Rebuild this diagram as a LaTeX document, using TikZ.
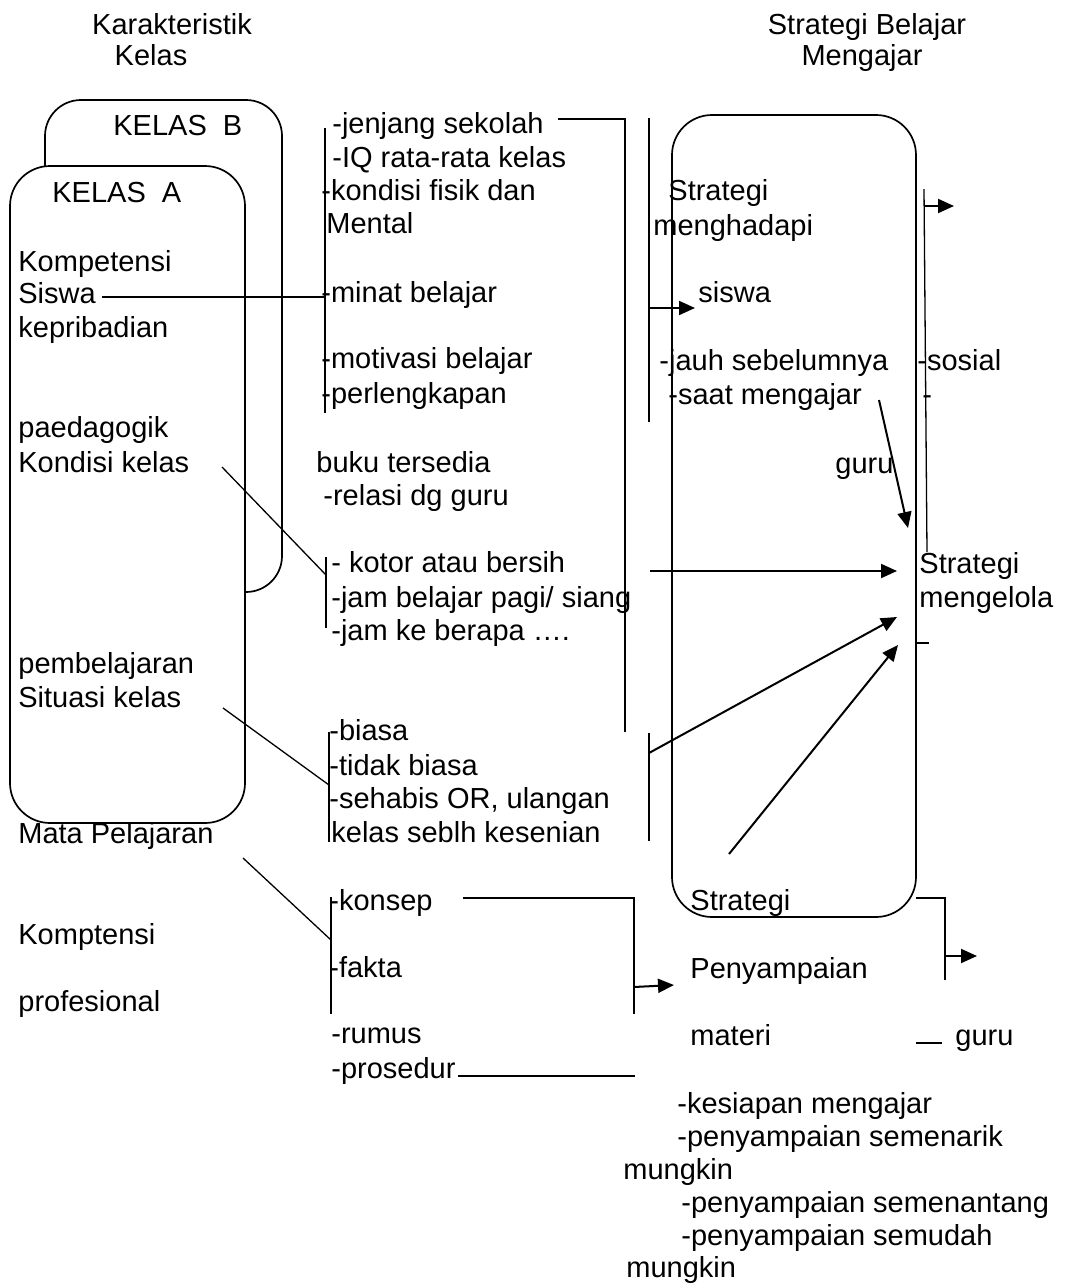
\documentclass[tikz,border=0pt]{standalone}
\usepackage{fontspec}
\setmainfont{Liberation Sans}
\usetikzlibrary{arrows.meta, positioning}
\tikzset{
  lbl/.style={anchor=base west, inner sep=0pt, font=\fontsize{14.5}{16.5}\selectfont},
  ttl/.style={anchor=base, inner sep=0pt, font=\fontsize{14.5}{16.5}\selectfont},
  kbox/.style={draw, line width=0.85pt, rounded corners=20pt, inner sep=0pt, outer sep=0pt},
  link/.style={line width=0.65pt},
  flow/.style={-{Triangle[length=8pt, width=7pt]}, line width=1pt},
}

\begin{document}
\begin{tikzpicture}[x=0.5pt, y=-0.5pt]
    \useasboundingbox (0,0) rectangle (1065,1285);
    % titles
    \node[ttl] (ttlKar) at (172,34) {Karakteristik};
    \node[ttl] (ttlKel) at (151,65) {Kelas};
    \node[ttl] (ttlStr) at (867,34) {Strategi Belajar};
    \node[ttl] (ttlMen) at (862,65) {Mengajar};

    % class boxes
    \node[kbox, rounded corners=18pt, minimum width=118.5pt, minimum height=246pt] (kelasB) at (163.5,346) {};
    \node[kbox, fill=white, minimum width=117.5pt, minimum height=328.5pt] (kelasA) at (127.5,494.5) {};
    \node[kbox, minimum width=122pt, minimum height=401pt] (stratBox) at (794,516) {};
    \node[lbl] (kB) at (113,135) {KELAS\ \ B};
    \node[lbl] (kA) at (52,202) {KELAS\ \ A};

    % left column
    \node[lbl] (kompS) at (18,271) {Kompetensi};
    \node[lbl] (siswaL) at (18,303) {Siswa};
    \node[lbl] (kepri) at (18,337) {kepribadian};
    \node[lbl] (paed) at (18,437) {paedagogik};
    \node[lbl] (kondisi) at (18,472) {Kondisi kelas};
    \node[lbl] (pembel) at (18,673) {pembelajaran};
    \node[lbl] (situasi) at (18,707) {Situasi kelas};
    \node[lbl] (mapel) at (18,843) {Mata Pelajaran};
    \node[lbl] (kompP) at (18,944) {Komptensi};
    \node[lbl] (profes) at (18,1011) {profesional};

    % middle column
    \node[lbl] (jenjang) at (332,133) {-jenjang sekolah};
    \node[lbl] (iq) at (332,167) {-IQ rata-rata kelas};
    \node[lbl] (fisik) at (321,200) {-kondisi fisik dan};
    \node[lbl] (mental) at (326,233) {Mental};
    \node[lbl] (minat) at (321,302) {-minat belajar};
    \node[lbl] (motiv) at (321,368) {-motivasi belajar};
    \node[lbl] (perlk) at (321,403) {-perlengkapan};
    \node[lbl] (buku) at (316,472) {buku tersedia};
    \node[lbl] (relasi) at (323,505) {-relasi dg guru};
    \node[lbl] (kotor) at (331,572) {- kotor atau bersih};
    \node[lbl] (jamBel) at (331,607) {-jam belajar pagi/ siang};
    \node[lbl] (jamKe) at (331,640) {-jam ke berapa ….};
    \node[lbl] (biasa) at (329,740) {-biasa};
    \node[lbl] (tdkBiasa) at (329,775) {-tidak biasa};
    \node[lbl] (sehabis) at (329,808) {-sehabis OR, ulangan};
    \node[lbl] (kesenian) at (331,842) {kelas seblh kesenian};
    \node[lbl] (konsep) at (329,910) {-konsep};
    \node[lbl] (fakta) at (329,977) {-fakta};
    \node[lbl] (rumus) at (331,1043) {-rumus};
    \node[lbl] (prosedur) at (331,1078) {-prosedur};

    % right column
    \node[lbl] (sMenghad1) at (668,200) {Strategi};
    \node[lbl] (sMenghad2) at (653,235) {menghadapi};
    \node[lbl] (siswaR) at (698,302) {siswa};
    \node[lbl] (jauh) at (659,370) {-jauh sebelumnya};
    \node[lbl] (saat) at (668,404) {-saat mengajar};
    \node[lbl] (guruA) at (835,473) {guru};
    \node[lbl] (sosial) at (917,370) {-sosial};
    \node[lbl] (dashS) at (922,404) {-};
    \node[lbl] (sKelola1) at (919,573) {Strategi};
    \node[lbl] (sKelola2) at (919,607) {mengelola};
    \node[lbl] (sSampai1) at (690,910) {Strategi};
    \node[lbl] (sSampai2) at (690,978) {Penyampaian};
    \node[lbl] (sSampai3) at (690,1045) {materi};
    \node[lbl] (guruB) at (955,1045) {guru};
    \node[lbl] (kesiapan) at (677,1113) {-kesiapan mengajar};
    \node[lbl] (menarik) at (677,1146) {-penyampaian semenarik};
    \node[lbl] (mungkinA) at (623,1179) {mungkin};
    \node[lbl] (menantang) at (681,1212) {-penyampaian semenantang};
    \node[lbl] (mudah) at (681,1245) {-penyampaian semudah};
    \node[lbl] (mungkinB) at (626,1277) {mungkin};

    % bracket points
    \coordinate (siswaEnd) at (102,297);
    \coordinate (br1Top) at (325,128);
    \coordinate (br1Mid) at (325,297);
    \coordinate (br1Bot) at (325,413);
    \coordinate (kondEnd) at (222,467);
    \coordinate (br2Top) at (326,557);
    \coordinate (br2Mid) at (326,575);
    \coordinate (br2Bot) at (326,628);
    \coordinate (sitEnd) at (223,708);
    \coordinate (br3Top) at (329,732);
    \coordinate (br3Mid) at (329,785);
    \coordinate (br3Bot) at (329,842);
    \coordinate (mapEnd) at (243,858);
    \coordinate (br4Top) at (331,897);
    \coordinate (br4Mid) at (331,940);
    \coordinate (br4Bot) at (331,1014);
    \coordinate (jenEnd) at (558,119);
    \coordinate (jenCor) at (625,119);
    \coordinate (jenBot) at (625,732);
    \coordinate (vTop) at (649,118);
    \coordinate (vMid) at (649,308);
    \coordinate (vBot) at (649,422);
    \coordinate (kotorSt) at (650,571);
    \coordinate (br5Top) at (649,733);
    \coordinate (br5Mid) at (649,753);
    \coordinate (br5Bot) at (649,841);
    \coordinate (sampaiSt) at (729,854);
    \coordinate (saatSt) at (879,400);
    \coordinate (rTop) at (924,189);
    \coordinate (rMid) at (924,206);
    \coordinate (rBot) at (927,552);
    \coordinate (tickA) at (917,643);
    \coordinate (tickB) at (929,643);
    \coordinate (bCor) at (945,898);
    \coordinate (bMid) at (945,956);
    \coordinate (bBot) at (945,980);
    \coordinate (tickC) at (916,1043);
    \coordinate (tickD) at (942,1043);
    \coordinate (konEnd) at (463,898);
    \coordinate (konCor) at (634,898);
    \coordinate (konMid) at (634,987);
    \coordinate (konBot) at (634,1014);
    \coordinate (prosEnd) at (458,1076);
    \coordinate (prosCor) at (635,1076);

    % brackets and links
    \draw[link] (br1Top) -- (br1Bot);
    \draw[link] (siswaEnd) -- (br1Mid);
    \draw[link] (br2Top) -- (br2Bot);
    \draw[link] (kondEnd) -- (br2Mid);
    \draw[link] (br3Top) -- (br3Bot);
    \draw[link] (sitEnd) -- (br3Mid);
    \draw[link] (br4Top) -- (br4Bot);
    \draw[link] (mapEnd) -- (br4Mid);
    \draw[link] (jenEnd) -- (jenCor) -- (jenBot);
    \draw[link] (vTop) -- (vBot);
    \draw[link] (br5Top) -- (br5Bot);
    \draw[link] (rTop) -- (rBot);
    \draw[link] (tickA) -- (tickB);
    \draw[link] (stratBox.east |- bCor) -- (bCor) -- (bBot);
    \draw[link] (tickC) -- (tickD);
    \draw[link] (konEnd) -- (konCor) -- (konBot);
    \draw[link] (prosEnd) -- (prosCor);

    % arrows
    \draw[flow] (vMid) -- (695,308);
    \draw[flow] (kotorSt) -- (897,571);
    \draw[flow] (br5Mid) -- (897,617);
    \draw[flow] (sampaiSt) -- (898,645);
    \draw[flow] (saatSt) -- (908,528);
    \draw[flow] (rMid) -- (954,206);
    \draw[flow] (bMid) -- (977,956);
    \draw[flow] (konMid) -- (674,985);
\end{tikzpicture}
\end{document}
